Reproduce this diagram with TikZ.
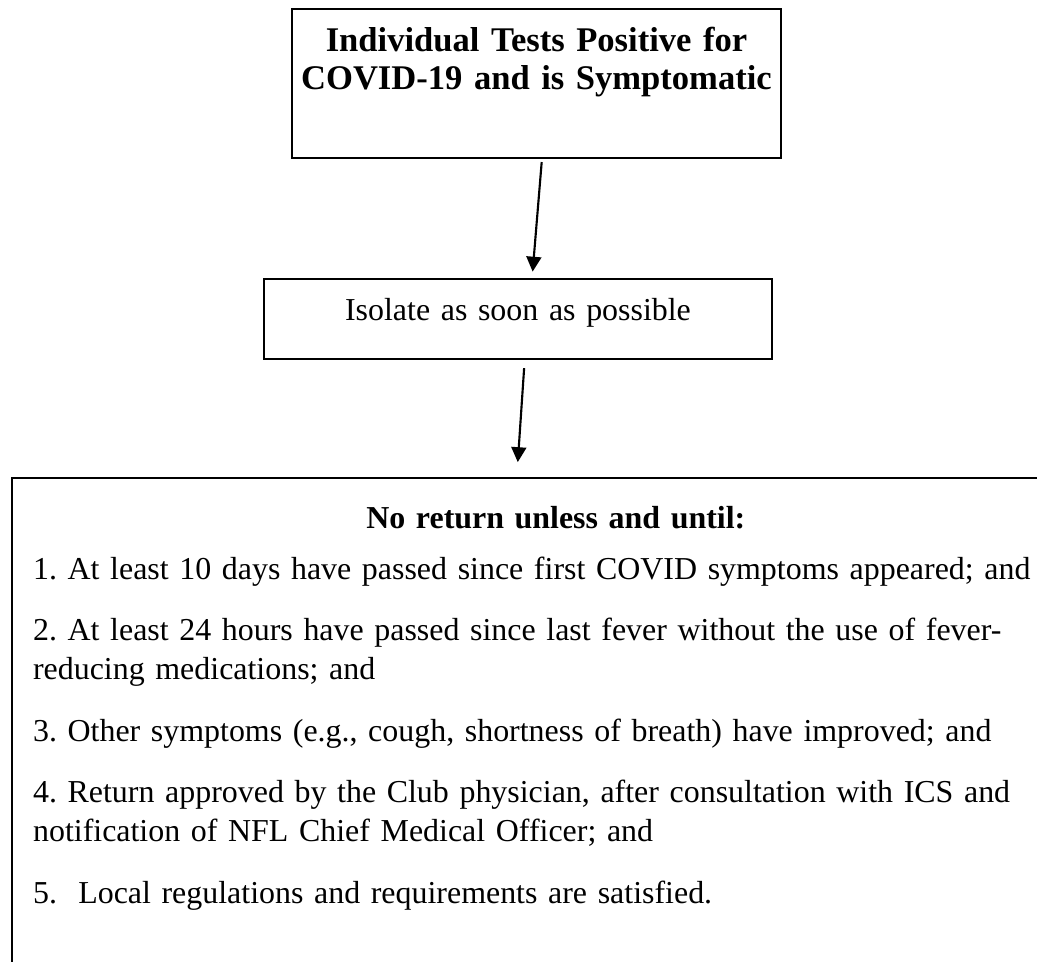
\documentclass[tikz,border=0pt]{standalone}
\usepackage{fontspec}
\setmainfont{Liberation Serif}
\usepackage{tikz}
\usetikzlibrary{arrows.meta,positioning}

\begin{document}
\begin{tikzpicture}[x=0.3759pt, y=-0.3759pt,
    box/.style={draw, line width=0.8pt, inner sep=0pt, align=center},
    arr/.style={line width=0.8pt, -{Triangle[length=5.6pt,width=5.6pt]}},
    txt/.style={font=\fontsize{12}{14.7}\selectfont\frenchspacing}]
    \useasboundingbox (0,0) rectangle (1037,961);
    \clip (0,0) rectangle (1037,961);

    % Boxes
    \node[box, anchor=north, text width=183.8pt, text height=15.8pt, text depth=40.2pt,
          font=\fontsize{13}{14.3}\selectfont\bfseries] (positive) at (536.5,8)
        {Individual Tests Positive for\\COVID-19 and is Symptomatic};
    \node[box, txt, anchor=north, text width=191pt, text height=15.45pt, text depth=14.65pt]
        (isolate) at (518,278) {Isolate as soon as possible};
    \node[box, txt, anchor=north west, inner xsep=7.9pt, text width=393pt, text height=18.8pt,
          text depth=200pt, align=left] (noreturn) at (11,477)
        {\makebox[\linewidth]{\bfseries No return unless and until:}\\[4.5pt]
         1. At least 10 days have passed since first COVID symptoms appeared; and\\[8.4pt]
         2. At least 24 hours have passed since last fever without the use of fever-\\
         reducing medications; and\\[8.4pt]
         3. Other symptoms (e.g., cough, shortness of breath) have improved; and\\[8.4pt]
         4. Return approved by the Club physician, after consultation with ICS and\\
         notification of NFL Chief Medical Officer; and\\[8.4pt]
         5.\ \ Local regulations and requirements are satisfied.};

    % Arrows
    \draw[arr] ([xshift=1.95pt, yshift=-1.1pt]positive.south) -- ([xshift=5.5pt, yshift=2.4pt]isolate.north);
    \draw[arr] ([xshift=2.3pt, yshift=-3pt]isolate.south) -- ([xshift=-14.3pt, yshift=5.6pt]noreturn.north);
\end{tikzpicture}
\end{document}
